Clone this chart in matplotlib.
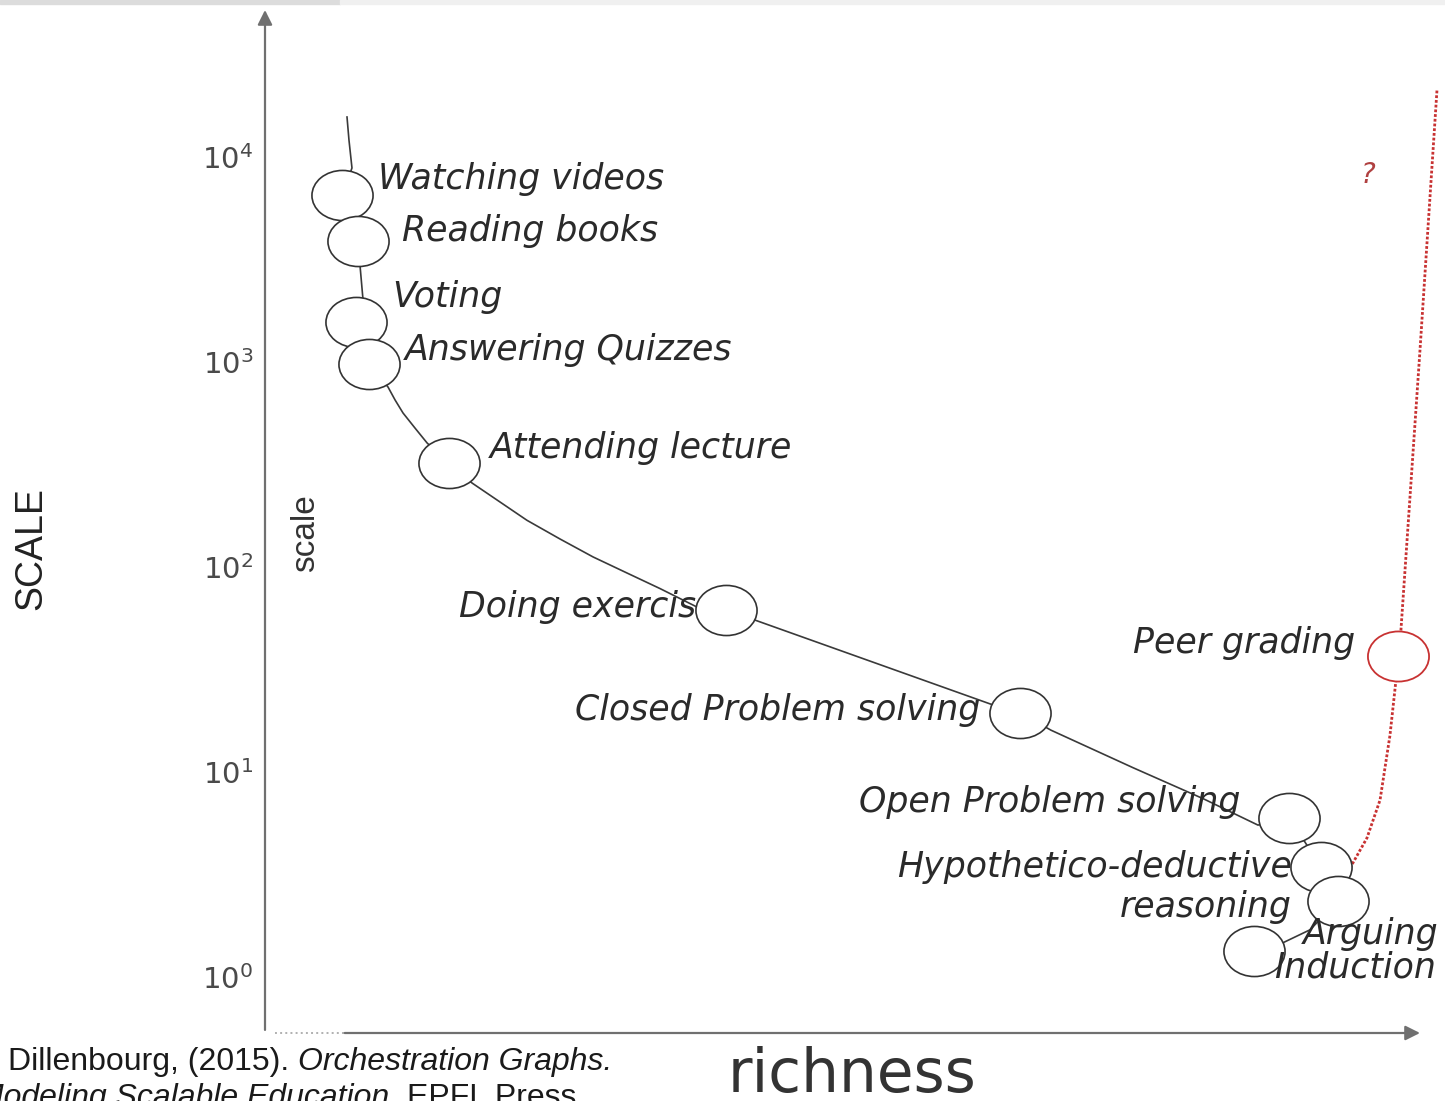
import matplotlib
matplotlib.use('Agg')
import matplotlib.pyplot as plt
from matplotlib.path import Path
from matplotlib.transforms import Affine2D
from matplotlib.patches import Rectangle

# ---------------- data ----------------
activities = ["Watching videos", "Reading books", "Voting", "Answering Quizzes",
              "Attending lecture", "Doing exercise", "Closed Problem solving",
              "Open Problem solving", "Hypothetico-deductive\nreasoning",
              "Arguing", "Induction"]
richness = [6.7, 8.05, 7.9, 9.0, 15.9, 39.9, 65.4, 88.7, 91.4, 92.9, 85.6]
scale = [6500, 3900, 1570, 980, 320, 62, 19.4, 6.0, 3.44, 2.35, 1.34]

peer_label = "Peer grading"
peer_richness = [98.1]
peer_scale = [37]

curve_richness = [7.10, 7.27, 7.53, 6.7, 8.05, 8.23, 8.48, 7.9, 9.0, 10.65, 11.26,
                  11.95, 12.99, 14.03, 15.9, 17.92, 20.35, 22.68, 25.54, 28.40,
                  31.34, 34.20, 37.40, 39.9, 42.42, 62.77, 65.4, 68.05, 75.15,
                  81.30, 85.97, 88.7, 91.4, 92.9, 90.48, 88.14, 85.6]
curve_scale = [15670, 12100, 8840, 6500, 3900, 2940, 2030, 1570, 980, 755, 653,
               564, 476, 403, 320, 257, 207.5, 169, 137, 112,
               93.5, 78.5, 63.8, 62, 55.1, 21.5, 19.4, 16.0, 10.5,
               7.38, 5.51, 6.0, 3.44, 2.35, 1.70, 1.47, 1.34]

red_richness = [93.94, 95.41, 96.54, 97.40, 97.92, 98.1, 98.35, 100.0, 101.47]
red_scale = [3.40, 4.77, 7.30, 15.1, 28.1, 37, 49.3, 1145, 21200]

ytick_values = [1, 10, 100, 1000, 10000]
ytick_labels = [r'$10^{0}$', r'$10^{1}$', r'$10^{2}$', r'$10^{3}$', r'$10^{4}$']

# ---------------- styling ----------------
label_offsets = [(26, 12), (32, 7), (26, 18), (26, 10), (30, 11), (-6, 1.5),
                 (-29, 2), (-35, 11), (-21, -14.5), (-25, -24), (15, -12)]
label_ha = ['left', 'left', 'left', 'left', 'left', 'right', 'right', 'right',
            'right', 'left', 'left']
label_z = [3, 3, 3, 3, 3, 3, 3, 3, 3, 6, 6]

fig = plt.figure(figsize=(14.45, 11.01), dpi=100)
fig.patch.set_facecolor('white')
fig.patches.append(Rectangle((0, 1 - 4 / 1101), 340 / 1445, 4 / 1101,
                             transform=fig.transFigure, color='#dcdcdc', zorder=0))
fig.patches.append(Rectangle((340 / 1445, 1 - 4 / 1101), 1 - 340 / 1445, 4 / 1101,
                             transform=fig.transFigure, color='#f0f0f0', zorder=0))

ax = fig.add_axes([265 / 1445, 68 / 1101, 1155 / 1445, 1023 / 1101])
ax.set_yscale('log')
ax.set_xlim(0, 100)
ax.set_ylim(10 ** -0.273, 10 ** 4.717)
for s in ax.spines.values():
    s.set_visible(False)
ax.set_xticks([])
ax.set_yticks(ytick_values)
ax.set_yticklabels(ytick_labels)
ax.yaxis.set_minor_locator(matplotlib.ticker.NullLocator())
ax.tick_params(axis='y', length=0, pad=8.5, labelsize=21, labelcolor='#4a4a4a')

# axes arrows
ax.annotate('', xy=(0, 1.0), xytext=(0, 0.003), xycoords='axes fraction',
            arrowprops=dict(arrowstyle='-|>', color='#707070', lw=1.6,
                            mutation_scale=22, shrinkA=0, shrinkB=0))
ax.annotate('', xy=(1.0, 0), xytext=(0.069, 0), xycoords='axes fraction',
            arrowprops=dict(arrowstyle='-|>', color='#707070', lw=1.6,
                            mutation_scale=22, shrinkA=0, shrinkB=0))
ax.plot([0.009, 0.069], [0, 0], transform=ax.transAxes, color='#b0b0b0',
        lw=1.4, ls=':', clip_on=False)

# curves
ax.plot(curve_richness, curve_scale, color='#3a3a3a', lw=1.2, zorder=2,
        clip_on=False)
ax.plot(red_richness, red_scale, color='#c83232', lw=2.0, ls=(0, (1.0, 0.7)),
        zorder=2, clip_on=False)

ell = Path.unit_circle().transformed(Affine2D().scale(1.22, 1.0))
ax.plot(richness, scale, ls='none', marker=ell, ms=44, mfc='white',
        mec='#333333', mew=1.2, zorder=4, clip_on=False)
ax.plot(peer_richness, peer_scale, ls='none', marker=ell, ms=44, mfc='white',
        mec='#c83232', mew=1.3, zorder=4, clip_on=False)

lab_font = dict(family='DejaVu Sans', style='oblique', size=25, color='#2a2a2a')
for name, x, y, off, ha, z in zip(activities, richness, scale, label_offsets,
                                  label_ha, label_z):
    ax.annotate(name, xy=(x, y), xytext=off, textcoords='offset points',
                ha=ha, va='center', multialignment='right', zorder=z,
                annotation_clip=False, **lab_font)
ax.annotate(peer_label, xy=(peer_richness[0], peer_scale[0]), xytext=(-31, 9),
            textcoords='offset points', ha='right', va='center', zorder=3,
            **lab_font)

ax.text(95.5, 8170, '?', ha='center', va='center', fontsize=20,
        style='oblique', color='#b04040', family='DejaVu Sans')

# axis titles
narrow = ['Liberation Sans Narrow', 'Liberation Sans', 'DejaVu Sans']
fig.text(31 / 1445, 1 - 549 / 1101, 'SCALE', rotation=90, ha='center',
         va='center', fontsize=27, family=narrow, color='#222222')
fig.text(306 / 1445, 1 - 533 / 1101, 'scale', rotation=90, ha='center',
         va='center', fontsize=24, family=narrow, color='#333333')
fig.text(852 / 1445, 9 / 1101, 'richness', ha='center', va='baseline',
         fontsize=43, family='DejaVu Sans', color='#333333')

# citation
cit = dict(fontsize=23, family='Liberation Sans', color='#1a1a1a')
t1 = fig.text(8 / 1445, 1 - 1077 / 1101, 'Dillenbourg, (2015). ', ha='left',
              va='bottom', **cit)
ax.annotate('Orchestration Graphs.', xy=(1, 0), xycoords=t1, ha='left',
            va='bottom', style='italic', annotation_clip=False, **cit)
t2 = fig.text(-23 / 1445, 1 - 1113 / 1101, 'Modeling Scalable Education. ',
              ha='left', va='bottom', style='italic', **cit)
ax.annotate('EPFL Press.', xy=(1, 0), xycoords=t2, ha='left', va='bottom',
            annotation_clip=False, **cit)

fig.savefig('out.png', dpi=100)
